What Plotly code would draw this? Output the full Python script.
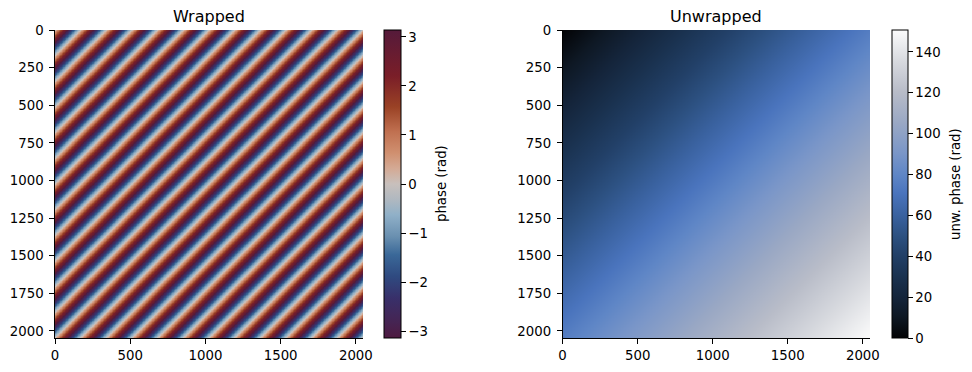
import numpy as np
import plotly.graph_objects as go

# ---- data description ----
IMG_SIZE = 2048            # image is 2048 x 2048 pixels
FRINGE_CYCLES = 12         # fringe cycles across the image, per axis
STEP = 4                   # sampling step (pixels) for the heatmap grid

x_ticks = [0, 500, 1000, 1500, 2000]
y_ticks = [0, 250, 500, 750, 1000, 1250, 1500, 1750, 2000]
wrapped_cbar_ticks = [-3, -2, -1, 0, 1, 2, 3]
unwrapped_cbar_ticks = [0, 20, 40, 60, 80, 100, 120, 140]

titles = ["Wrapped", "Unwrapped"]
cbar_titles = ["phase (rad)", "unw. phase (rad)"]

# phase ramp
coords = np.arange(0, IMG_SIZE, STEP) + (STEP - 1) / 2.0
X, Y = np.meshgrid(coords, coords)
k = 2 * np.pi * FRINGE_CYCLES / IMG_SIZE
unwrapped = (k * (X + Y)).astype(np.float32)
wrapped = np.angle(np.exp(1j * unwrapped.astype(np.float64))).astype(np.float32)
unw_max = float(k * 2 * (IMG_SIZE - 1))

vik_o = [
    [0.00, "#4e1a40"],
    [0.05, "#462452"],
    [0.13, "#38306a"],
    [0.20, "#2f4a80"],
    [0.27, "#3a6898"],
    [0.33, "#6a90b0"],
    [0.40, "#90b0c8"],
    [0.45, "#b0b8c0"],
    [0.50, "#c8c0bc"],
    [0.55, "#d4aa95"],
    [0.60, "#d09070"],
    [0.67, "#c07050"],
    [0.75, "#9a4225"],
    [0.85, "#7a1e28"],
    [1.00, "#551a3a"],
]
oslo = [
    [0.00, "#030305"],
    [0.07, "#0e1824"],
    [0.13, "#14243a"],
    [0.20, "#1a3250"],
    [0.27, "#224068"],
    [0.33, "#2c5080"],
    [0.40, "#3a62a0"],
    [0.47, "#4a74bd"],
    [0.53, "#5f86c6"],
    [0.60, "#7a96c8"],
    [0.70, "#9aa8c4"],
    [0.80, "#b8bcc8"],
    [0.90, "#d8dadf"],
    [1.00, "#fbfbfb"],
]

W, H = 972, 372
FONT = "DejaVu Sans"
FS = 13.3

ax_top, ax_bot = 30, 338
ax1 = (55, 363)
ax2 = (562.5, 870)
cb1_x, cb1_w = 384, 17
cb2_x, cb2_w = 892, 16
cb_title_x = [441, 955]

def px_x(p):
    return p / W

def px_y(p):
    return 1 - p / H

def cbar(x, w, ticks):
    return dict(
        x=px_x(x), xanchor="left", xpad=0,
        y=px_y((ax_top + ax_bot) / 2), yanchor="middle", ypad=0,
        len=ax_bot - ax_top, lenmode="pixels",
        thickness=w, thicknessmode="pixels",
        outlinewidth=1, outlinecolor="black",
        tickvals=ticks, ticks="outside", ticklen=4.7, tickwidth=1, tickcolor="black",
        tickfont=dict(family=FONT, size=FS, color="black"),
    )

fig = go.Figure()
fig.add_trace(go.Heatmap(
    z=wrapped, x0=coords[0], dx=STEP, y0=coords[0], dy=STEP,
    zmin=-np.pi, zmax=np.pi, colorscale=vik_o, zsmooth=False,
    colorbar=cbar(cb1_x, cb1_w, wrapped_cbar_ticks),
    xaxis="x", yaxis="y", hoverinfo="skip",
))
fig.add_trace(go.Heatmap(
    z=unwrapped, x0=coords[0], dx=STEP, y0=coords[0], dy=STEP,
    zmin=0, zmax=unw_max, colorscale=oslo, zsmooth=False,
    colorbar=cbar(cb2_x, cb2_w, unwrapped_cbar_ticks),
    xaxis="x2", yaxis="y2", hoverinfo="skip",
))

axis_common = dict(
    showgrid=False, zeroline=False, showline=True, linecolor="black", linewidth=1,
    ticks="outside", ticklen=4.7, tickwidth=1, tickcolor="black",
    tickfont=dict(family=FONT, size=FS, color="black"),
)

annotations = []
for i, (a, t) in enumerate(zip((ax1, ax2), titles)):
    annotations.append(dict(
        text=t, x=px_x((a[0] + a[1]) / 2), y=px_y(ax_top), xref="paper", yref="paper",
        xanchor="center", yanchor="bottom", yshift=2, showarrow=False,
        font=dict(family=FONT, size=16, color="black")))
    annotations.append(dict(
        text=cbar_titles[i], x=px_x(cb_title_x[i]), y=px_y((ax_top + ax_bot) / 2),
        xref="paper", yref="paper", xanchor="center", yanchor="middle",
        textangle=-90, showarrow=False,
        font=dict(family=FONT, size=FS, color="black")))

fig.update_layout(
    width=W, height=H, margin=dict(l=0, r=0, t=0, b=0, autoexpand=False),
    paper_bgcolor="white", plot_bgcolor="white",
    font=dict(family=FONT, size=FS, color="black"),
    xaxis=dict(domain=[px_x(ax1[0]), px_x(ax1[1])], range=[-0.5, IMG_SIZE - 0.5],
               tickvals=x_ticks, anchor="y", **axis_common),
    yaxis=dict(domain=[px_y(ax_bot), px_y(ax_top)], range=[IMG_SIZE - 0.5, -0.5],
               tickvals=y_ticks, anchor="x", ticklabelstandoff=3, **axis_common),
    xaxis2=dict(domain=[px_x(ax2[0]), px_x(ax2[1])], range=[-0.5, IMG_SIZE - 0.5],
                tickvals=x_ticks, anchor="y2", **axis_common),
    yaxis2=dict(domain=[px_y(ax_bot), px_y(ax_top)], range=[IMG_SIZE - 0.5, -0.5],
                tickvals=y_ticks, anchor="x2", ticklabelstandoff=3, **axis_common),
    annotations=annotations,
)

fig.write_html(
    "out.html",
    config={"displayModeBar": False},
    post_script="document.body.style.margin='0';document.body.style.overflow='hidden';",
)
